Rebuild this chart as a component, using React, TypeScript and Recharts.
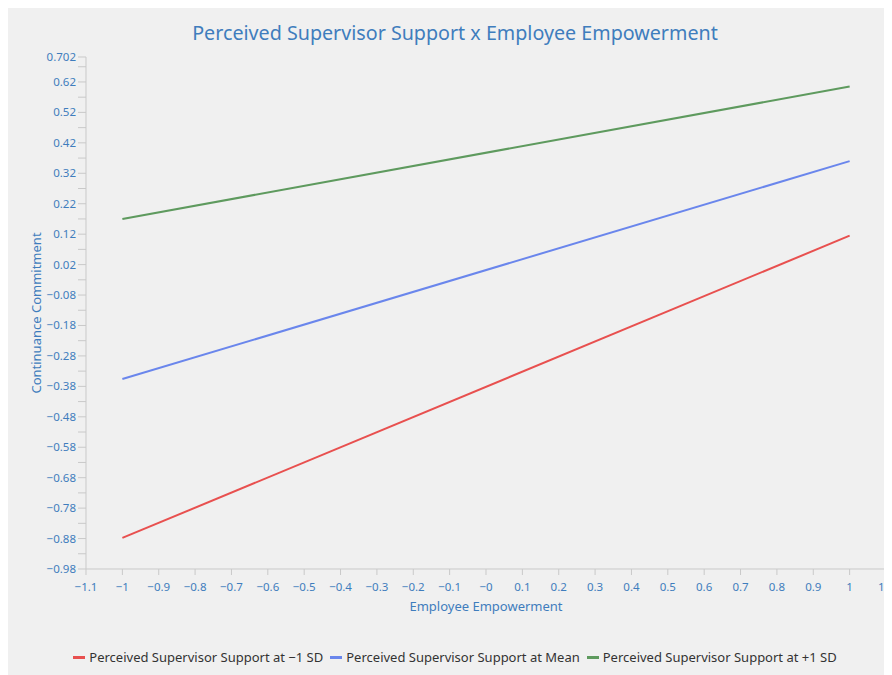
import React from "react";
import {
  LineChart,
  Line,
  XAxis,
  YAxis,
  Legend,
} from "recharts";

// data
const xValues = [-1, 1];
const lowSupport = [-0.878, 0.115];
const meanSupport = [-0.356, 0.36];
const highSupport = [0.17, 0.605];

const xTicks = [
  -1.1, -1, -0.9, -0.8, -0.7, -0.6, -0.5, -0.4, -0.3, -0.2, -0.1, 0, 0.1, 0.2,
  0.3, 0.4, 0.5, 0.6, 0.7, 0.8, 0.9, 1, 1.1,
];
const xTickLabels = [
  "−1.1", "−1", "−0.9", "−0.8", "−0.7", "−0.6", "−0.5", "−0.4", "−0.3", "−0.2",
  "−0.1", "−0", "0.1", "0.2", "0.3", "0.4", "0.5", "0.6", "0.7", "0.8", "0.9",
  "1", "1.1",
];

const yMajorTicks = [
  0.702, 0.62, 0.52, 0.42, 0.32, 0.22, 0.12, 0.02, -0.08, -0.18, -0.28, -0.38,
  -0.48, -0.58, -0.68, -0.78, -0.88, -0.98,
];
const yMajorLabels = [
  "0.702", "0.62", "0.52", "0.42", "0.32", "0.22", "0.12", "0.02", "−0.08",
  "−0.18", "−0.28", "−0.38", "−0.48", "−0.58", "−0.68", "−0.78", "−0.88",
  "−0.98",
];
const yMinorTicks = [
  0.67, 0.57, 0.47, 0.37, 0.27, 0.17, 0.07, -0.03, -0.13, -0.23, -0.33, -0.43,
  -0.53, -0.63, -0.73, -0.83, -0.93,
];

const seriesNames = [
  "Perceived Supervisor Support at −1 SD",
  "Perceived Supervisor Support at Mean",
  "Perceived Supervisor Support at +1 SD",
];
const colors = ["#e8504f", "#6a86ec", "#5e9a5e"];

const data = xValues.map((x, i) => ({
  x,
  low: lowSupport[i],
  mean: meanSupport[i],
  high: highSupport[i],
}));

const FONT = "'Noto Sans', sans-serif";
const BLUE = "#3f7dbd";
const GRID = "#c9c9c9";

const YTick = (props: any) => {
  const { x, y, payload } = props;
  const idx = yMajorTicks.indexOf(payload.value);
  if (idx < 0) return null;
  return (
    <text x={x} y={y} dy={4} textAnchor="end" fill={BLUE} fontSize={11.5} fontFamily={FONT}>
      {yMajorLabels[idx]}
    </text>
  );
};

const XTick = (props: any) => {
  const { x, y, payload } = props;
  const idx = xTicks.indexOf(payload.value);
  return (
    <text x={x} y={y} dy={14} textAnchor="middle" fill={BLUE} fontSize={11.5} fontFamily={FONT}>
      {xTickLabels[idx]}
    </text>
  );
};

const LegendContent = () => (
  <div
    style={{
      display: "flex",
      justifyContent: "center",
      gap: 7,
      fontSize: 13,
      color: "#333",
      fontFamily: FONT,
      paddingLeft: 10,
    }}
  >
    {seriesNames.map((name, i) => (
      <span key={name} style={{ display: "flex", alignItems: "center" }}>
        <span
          style={{
            display: "inline-block",
            width: 12,
            height: 3,
            background: colors[i],
            marginRight: 4,
          }}
        />
        {name}
      </span>
    ))}
  </div>
);

export default function App() {
  return (
    <div style={{ position: "relative", width: 884, height: 667, background: "#f0f0f0", fontFamily: FONT }}>
      <style>{"body{overflow:hidden}"}</style>
      <div
        style={{
          position: "absolute",
          top: 11,
          left: 0,
          width: 894,
          textAlign: "center",
          color: BLUE,
          fontSize: 19.7,
        }}
      >
        Perceived Supervisor Support x Employee Empowerment
      </div>
      <LineChart
        width={884}
        height={667}
        data={data}
        margin={{ top: 49, right: 6, left: 0, bottom: 40 }}
      >
        <XAxis
          dataKey="x"
          type="number"
          domain={[-1.1, 1.1]}
          ticks={xTicks}
          interval={0}
          tick={<XTick />}
          tickSize={6}
          stroke={GRID}
          height={48}
          label={{
            value: "Employee Empowerment",
            position: "insideBottom",
            offset: 6,
            fill: BLUE,
            fontSize: 13,
            fontFamily: FONT,
          }}
        />
        <YAxis
          type="number"
          domain={[-0.98, 0.702]}
          ticks={[...yMajorTicks, ...yMinorTicks]}
          interval={0}
          tick={<YTick />}
          tickSize={8}
          stroke={GRID}
          width={78}
          label={{
            value: "Continuance Commitment",
            angle: -90,
            position: "insideLeft",
            offset: 28,
            fill: BLUE,
            fontSize: 13,
            fontFamily: FONT,
            style: { textAnchor: "middle" },
          }}
        />
        <Legend
          verticalAlign="bottom"
          content={<LegendContent />}
          wrapperStyle={{ top: 640, left: 0, width: 884 }}
        />
        <Line
          type="linear"
          dataKey="low"
          name={seriesNames[0]}
          stroke={colors[0]}
          strokeWidth={2}
          dot={false}
          isAnimationActive={false}
        />
        <Line
          type="linear"
          dataKey="mean"
          name={seriesNames[1]}
          stroke={colors[1]}
          strokeWidth={2}
          dot={false}
          isAnimationActive={false}
        />
        <Line
          type="linear"
          dataKey="high"
          name={seriesNames[2]}
          stroke={colors[2]}
          strokeWidth={2}
          dot={false}
          isAnimationActive={false}
        />
      </LineChart>
    </div>
  );
}
